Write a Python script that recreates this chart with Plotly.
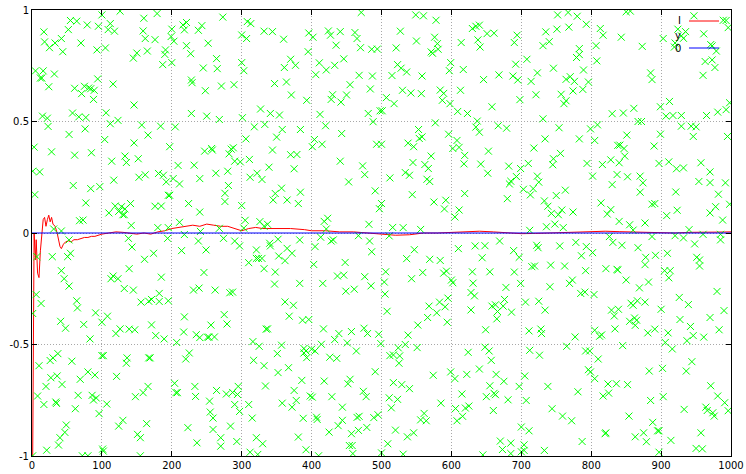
import plotly.graph_objects as go

# ---- data ----
# "y" series: (index, value) pairs
y_points = [
(100,0.978),(126,0.995),(55,0.953),(64,0.950),(79,0.933),(95,0.927),(112,0.939),(109,0.912),(118,0.905),(160,0.963),(17,0.902),(52,0.912),(42,0.872),(18,0.857),(25,0.831),(33,0.852),(70,0.852),(44,0.813),(93,0.821),(105,0.830),(159,0.906),(162,0.872),(165,0.816),(150,0.807),(145,0.784),(5,0.727),(16,0.727),(12,0.695),(14,0.695),(32,0.713),(24,0.656),(61,0.649),(71,0.625),(75,0.658),(81,0.650),(84,0.647),(89,0.640),(94,0.691),(116,0.668),(88,0.599),(146,0.574),(15,0.524),(22,0.515),(58,0.538),(67,0.521),(77,0.518),(106,0.539),(23,0.478),(53,0.442),(76,0.467),(112,0.490),(123,0.505),(157,0.484),(166,0.439),(104,0.419),(146,0.404),(3,0.385),(28,0.364),(61,0.349),(85,0.360),(133,0.345),(135,0.316),(152,0.333),(114,0.322),(1,0.277),(11,0.274),(117,0.237),(153,0.250),(162,0.261),(59,0.213),(84,0.199),(97,0.208),(4,0.172),(77,0.135),(119,0.121),(128,0.118),(141,0.132),(133,0.108),(124,0.097),(110,0.090),(130,0.082),(132,0.082),(68,0.055),(73,0.058),(142,0.034),(31,0.018),(42,0.009),
(138,-0.024),(53,-0.031),(143,-0.063),(7,-0.106),(29,-0.106),(51,-0.106),(55,-0.091),(161,-0.118),(139,-0.160),(42,-0.169),(46,-0.205),(53,-0.238),(113,-0.205),(116,-0.193),(123,-0.205),(132,-0.249),(145,-0.256),(6,-0.276),(13,-0.316),(64,-0.304),(65,-0.336),(156,-0.310),(167,-0.306),(1,-0.361),(91,-0.358),(108,-0.373),(41,-0.396),(100,-0.400),(48,-0.427),(74,-0.410),(126,-0.430),(120,-0.451),(139,-0.431),(147,-0.434),(83,-0.475),(100,-0.550),(102,-0.550),(37,-0.541),(30,-0.560),(26,-0.572),(10,-0.595),(57,-0.575),(136,-0.560),(135,-0.584),(27,-0.649),(36,-0.641),(43,-0.679),(20,-0.688),(69,-0.656),(80,-0.623),(90,-0.637),(121,-0.643),(167,-0.560),(8,-0.731),(17,-0.769),(34,-0.758),(35,-0.764),(66,-0.728),(86,-0.728),(88,-0.749),(92,-0.740),(62,-0.788),(107,-0.767),(148,-0.734),(159,-0.716),(166,-0.688),(96,-0.810),(49,-0.861),(47,-0.894),(40,-0.918),(38,-0.951),(124,-0.866),(130,-0.840),(164,-0.855),(151,-0.903),(155,-0.918),(21,-0.974),(1,-0.999),(72,-0.999),(80,-0.999),(101,-0.969),(102,-0.978),(155,-0.999),
(179,0.984),(200,0.914),(199,0.881),(203,0.860),(216,0.933),(221,0.944),(218,0.911),(238,0.909),(243,0.930),(252,0.851),(221,0.840),(227,0.804),(191,0.821),(190,0.801),(187,0.755),(200,0.764),(176,0.867),(273,0.968),(264,0.782),(265,0.737),(245,0.740),(228,0.686),(229,0.674),(248,0.638),(271,0.659),(289,0.665),(300,0.888),(307,0.872),(308,0.948),(313,0.939),(332,0.905),(300,0.764),(303,0.728),(327,0.556),(228,0.536),(250,0.524),(268,0.509),(301,0.517),(318,0.476),(333,0.487),(184,0.479),(205,0.476),(197,0.387),(247,0.367),(257,0.379),(258,0.372),(285,0.376),(288,0.382),(282,0.355),(209,0.303),(232,0.304),(290,0.322),(298,0.319),(311,0.330),(306,0.422),(181,0.267),(188,0.259),(192,0.229),(202,0.244),(211,0.220),(240,0.244),(263,0.268),(280,0.277),(281,0.213),(312,0.250),(322,0.268),(329,0.240),(195,0.169),(197,0.169),(276,0.178),(276,0.141),(176,0.120),(185,0.121),(224,0.132),(240,0.094),(300,0.123),(180,0.024),(195,0.024),(211,0.048),(241,0.007),(268,0.021),(303,0.022),(305,0.057),(326,0.051),(332,0.030),
(194,-0.024),(218,-0.007),(238,-0.036),(249,-0.076),(274,-0.024),(290,-0.036),(297,-0.058),(321,-0.076),(321,-0.114),(324,-0.114),(329,-0.114),(310,-0.133),(332,-0.160),(174,-0.091),(214,-0.079),(246,-0.177),(185,-0.198),(182,-0.271),(171,-0.298),(182,-0.307),(195,-0.304),(231,-0.256),(239,-0.247),(262,-0.256),(283,-0.268),(287,-0.265),(218,-0.376),(275,-0.366),(171,-0.412),(256,-0.413),(279,-0.408),(177,-0.460),(189,-0.475),(217,-0.444),(235,-0.456),(240,-0.469),(251,-0.467),(253,-0.467),(261,-0.466),(207,-0.491),(316,-0.487),(325,-0.508),(335,-0.431),(169,-0.560),(225,-0.538),(220,-0.565),(317,-0.571),(332,-0.595),(204,-0.674),(206,-0.716),(208,-0.716),(233,-0.688),(234,-0.733),(264,-0.706),(254,-0.754),(255,-0.803),(259,-0.830),(278,-0.722),(287,-0.715),(294,-0.724),(295,-0.688),(290,-0.769),(297,-0.800),(310,-0.769),(315,-0.830),(334,-0.686),(223,-0.873),(259,-0.881),(284,-0.866),(236,-0.941),(270,-0.918),(270,-0.956),(293,-0.935),(321,-0.918),(330,-0.945),(312,-0.983),(323,-0.993),
(471,0.989),(344,0.903),(360,0.869),(396,0.897),(402,0.878),(395,0.813),(424,0.906),(427,0.887),(441,0.903),(462,0.899),(465,0.872),(470,0.831),(435,0.842),(486,0.824),(494,0.825),(370,0.779),(377,0.752),(361,0.742),(411,0.763),(406,0.710),(421,0.731),(433,0.752),(446,0.781),(347,0.670),(364,0.677),(371,0.619),(468,0.707),(487,0.704),(455,0.665),(484,0.646),(430,0.620),(428,0.599),(442,0.587),(450,0.619),(393,0.595),(341,0.536),(354,0.529),(412,0.532),(481,0.536),(498,0.548),(501,0.548),(358,0.464),(384,0.464),(420,0.481),(350,0.430),(404,0.419),(401,0.387),(415,0.398),(443,0.446),(493,0.398),(500,0.398),(488,0.499),(344,0.372),(370,0.351),(379,0.352),(339,0.295),(375,0.288),(441,0.322),(473,0.301),(476,0.262),(453,0.229),(348,0.177),(345,0.148),(357,0.201),(365,0.148),(384,0.183),(381,0.132),(491,0.189),(500,0.132),(497,0.109),(337,0.039),(418,0.052),(423,0.066),(482,0.039),(421,0.018),
(340,-0.046),(341,-0.058),(352,-0.028),(383,-0.031),(405,-0.061),(413,-0.019),(428,-0.036),(431,-0.031),(467,-0.012),(483,-0.036),(486,-0.084),(353,-0.103),(365,-0.069),(372,-0.091),(362,-0.124),(348,-0.175),(403,-0.141),(448,-0.132),(437,-0.193),(446,-0.189),(476,-0.196),(485,-0.237),(347,-0.229),(383,-0.226),(416,-0.226),(449,-0.261),(461,-0.252),(362,-0.309),(374,-0.324),(368,-0.373),(387,-0.391),(396,-0.388),(337,-0.430),(417,-0.430),(439,-0.451),(457,-0.442),(475,-0.427),(480,-0.451),(496,-0.454),(433,-0.478),(451,-0.493),(499,-0.496),(357,-0.503),(414,-0.499),(351,-0.541),(389,-0.518),(392,-0.529),(389,-0.538),(393,-0.559),(400,-0.521),(405,-0.529),(426,-0.557),(436,-0.562),(464,-0.529),(367,-0.604),(352,-0.626),(386,-0.661),(418,-0.664),(452,-0.676),(455,-0.656),(491,-0.622),(375,-0.706),(398,-0.731),(401,-0.736),(429,-0.734),(474,-0.710),(478,-0.734),(358,-0.763),(372,-0.781),(378,-0.751),(444,-0.781),(388,-0.831),(407,-0.826),(408,-0.836),(444,-0.840),(438,-0.864),(465,-0.827),(468,-0.822),(489,-0.828),(495,-0.815),(381,-0.915),(425,-0.893),(457,-0.900),(467,-0.885),(479,-0.872),(392,-0.972),(410,-0.999),(454,-0.953),(458,-0.953),(459,-0.989),(500,-0.986),
(549,0.978),(560,0.974),(578,0.954),(527,0.905),(550,0.861),(521,0.830),(576,0.878),(580,0.849),(581,0.824),(571,0.812),(573,0.806),(614,0.854),(630,0.917),(635,0.927),(640,0.932),(651,0.894),(661,0.896),(638,0.866),(641,0.834),(599,0.764),(597,0.728),(617,0.733),(523,0.755),(528,0.739),(536,0.722),(515,0.706),(558,0.704),(646,0.688),(668,0.709),(530,0.640),(542,0.628),(557,0.625),(584,0.641),(589,0.626),(587,0.595),(598,0.580),(613,0.640),(507,0.607),(518,0.580),(609,0.545),(623,0.536),(658,0.566),(577,0.494),(637,0.502),(635,0.475),(640,0.452),(667,0.481),(553,0.464),(554,0.424),(558,0.431),(596,0.443),(538,0.403),(546,0.387),(608,0.415),(611,0.384),(602,0.379),(653,0.367),(571,0.345),(619,0.348),(545,0.316),(562,0.307),(567,0.289),(618,0.310),(642,0.309),(652,0.268),(534,0.271),(540,0.259),(512,0.247),(565,0.241),(569,0.231),(544,0.172),(619,0.177),(575,0.139),(592,0.147),(590,0.108),(611,0.103),(605,0.072),(516,0.025),(531,0.024),(556,0.016),
(511,-0.013),(610,-0.070),(634,-0.058),(648,-0.057),(669,-0.036),(547,-0.075),(536,-0.115),(569,-0.118),(584,-0.123),(644,-0.111),(506,-0.174),(504,-0.220),(559,-0.177),(543,-0.205),(589,-0.180),(593,-0.171),(630,-0.174),(655,-0.174),(600,-0.211),(602,-0.223),(631,-0.225),(505,-0.274),(628,-0.267),(633,-0.282),(595,-0.292),(583,-0.310),(568,-0.328),(579,-0.358),(591,-0.331),(508,-0.351),(628,-0.345),(566,-0.379),(594,-0.400),(552,-0.413),(649,-0.434),(658,-0.328),(663,-0.322),(666,-0.352),(665,-0.385),(538,-0.458),(524,-0.515),(534,-0.500),(551,-0.514),(512,-0.550),(517,-0.547),(526,-0.551),(525,-0.584),(648,-0.512),(654,-0.529),(624,-0.535),(657,-0.571),(640,-0.610),(574,-0.638),(599,-0.623),(605,-0.653),(622,-0.634),(517,-0.671),(529,-0.680),(540,-0.698),(655,-0.685),(664,-0.634),(615,-0.722),(650,-0.734),(661,-0.719),(663,-0.725),(511,-0.739),(523,-0.746),(514,-0.784),(585,-0.763),(606,-0.787),(608,-0.842),(616,-0.822),(620,-0.785),(625,-0.776),(660,-0.796),(561,-0.809),(556,-0.838),(564,-0.842),(520,-0.884),(537,-0.914),(546,-0.896),(509,-0.945),(670,-0.933),(531,-0.992),(645,-0.995),
(752,0.978),(767,0.989),(780,0.972),(735,0.902),(751,0.914),(768,0.923),(793,0.936),(731,0.840),(740,0.858),(690,0.854),(694,0.887),(708,0.779),(692,0.757),(688,0.704),(695,0.686),(714,0.680),(723,0.718),(746,0.739),(783,0.827),(783,0.800),(779,0.787),(789,0.731),(764,0.689),(770,0.701),(776,0.680),(774,0.637),(788,0.644),(796,0.677),(757,0.622),(764,0.593),(761,0.580),(721,0.620),(698,0.598),(731,0.512),(807,0.840),(808,0.772),(813,0.917),(817,0.887),(830,0.535),(679,0.470),(754,0.472),(799,0.467),(809,0.485),(734,0.422),(783,0.422),(805,0.415),(718,0.381),(756,0.357),(746,0.333),(745,0.306),(710,0.312),(699,0.289),(682,0.300),(685,0.232),(683,0.220),(693,0.253),(723,0.255),(725,0.228),(717,0.199),(713,0.171),(703,0.196),(763,0.192),(750,0.168),(733,0.144),(738,0.120),(743,0.088),(753,0.082),(758,0.103),(774,0.094),(794,0.312),(802,0.255),(816,0.307),(828,0.328),(830,0.217),(838,0.393),(837,0.262),(814,0.135),(828,0.105),(823,0.085),(680,0.154),(736,0.028),(748,0.040),(760,0.024),(712,0.012),
(689,-0.079),(697,-0.109),(722,-0.055),(724,-0.066),(755,-0.058),(778,-0.042),(793,-0.061),(802,-0.088),(786,-0.102),(826,-0.016),(831,-0.042),(821,-0.160),(837,-0.163),(690,-0.175),(715,-0.151),(719,-0.148),(742,-0.144),(762,-0.148),(792,-0.169),(678,-0.244),(699,-0.226),(741,-0.241),(769,-0.226),(773,-0.211),(785,-0.271),(791,-0.265),(804,-0.276),(676,-0.298),(674,-0.328),(686,-0.355),(706,-0.310),(725,-0.306),(734,-0.346),(829,-0.346),(833,-0.372),(711,-0.439),(728,-0.431),(729,-0.451),(777,-0.466),(805,-0.436),(812,-0.463),(815,-0.457),(834,-0.430),(765,-0.508),(712,-0.526),(726,-0.548),(792,-0.529),(798,-0.529),(810,-0.565),(796,-0.613),(799,-0.623),(805,-0.653),(824,-0.677),(836,-0.676),(705,-0.641),(697,-0.688),(738,-0.688),(781,-0.712),(825,-0.718),(817,-0.731),(675,-0.665),(681,-0.748),(707,-0.751),(744,-0.788),(759,-0.821),(772,-0.842),(700,-0.870),(711,-0.887),(820,-0.900),(821,-0.896),(787,-0.935),(685,-0.942),(673,-0.971),(685,-0.989),(704,-0.950),(704,-0.975),(733,-0.975),(700,-0.981),
(850,0.992),(856,0.995),(843,0.878),(873,0.837),(903,0.872),(947,0.974),(924,0.914),(935,0.903),(929,0.884),(920,0.852),(919,0.834),(932,0.873),(961,0.893),(971,0.845),(973,0.839),(979,0.816),(989,0.954),(993,0.953),(996,0.921),(963,0.769),(973,0.776),(977,0.742),(960,0.707),(885,0.718),(887,0.688),(912,0.590),(899,0.566),(907,0.524),(917,0.527),(929,0.527),(998,0.584),(993,0.553),(981,0.542),(965,0.527),(846,0.538),(861,0.559),(867,0.500),(872,0.500),(851,0.439),(899,0.443),(929,0.479),(943,0.479),(950,0.476),(946,0.433),(995,0.433),(841,0.394),(847,0.379),(848,0.345),(840,0.315),(890,0.390),(897,0.312),(911,0.319),(922,0.288),(932,0.292),(957,0.315),(852,0.252),(870,0.255),(874,0.225),(921,0.184),(870,0.183),(887,0.129),(891,0.132),(908,0.078),(923,0.102),(954,0.231),(970,0.274),(970,0.226),(992,0.225),(982,0.174),(978,0.118),(970,0.090),(998,0.129),(988,0.058),(840,0.052),(855,0.037),(877,0.045),(860,0.013),(940,0.015),
(887,-0.016),(920,-0.012),(932,-0.022),(960,-0.006),(985,-0.006),(985,-0.031),(948,-0.049),(844,-0.055),(867,-0.066),(878,-0.109),(877,-0.142),(892,-0.100),(909,-0.091),(905,-0.169),(913,-0.169),(911,-0.201),(951,-0.109),(955,-0.121),(955,-0.148),(838,-0.166),(850,-0.211),(869,-0.246),(882,-0.220),(980,-0.262),(926,-0.289),(939,-0.321),(857,-0.315),(860,-0.324),(866,-0.304),(877,-0.310),(839,-0.342),(900,-0.342),(990,-0.348),(855,-0.396),(862,-0.381),(865,-0.391),(863,-0.414),(927,-0.388),(970,-0.379),(942,-0.419),(946,-0.460),(937,-0.483),(961,-0.467),(983,-0.434),(881,-0.448),(891,-0.431),(910,-0.448),(906,-0.491),(916,-0.520),(845,-0.505),(944,-0.577),(902,-0.607),(936,-0.619),(883,-0.619),(852,-0.680),(971,-0.685),(981,-0.731),(991,-0.761),(903,-0.734),(885,-0.751),(933,-0.791),(964,-0.781),(966,-0.796),(974,-0.806),(976,-0.821),(996,-0.797),(854,-0.821),(888,-0.849),(895,-0.887),(897,-0.887),(863,-0.914),(875,-0.896),(879,-0.936),(914,-0.930),(957,-0.896),(950,-0.966),(959,-0.968),(897,-0.983),
]

# "I" series (running mean), read at sample positions
I_x = [1, 2, 3, 5, 6, 8, 10, 12, 14, 16, 18, 20, 22, 24, 26, 28, 30, 33, 36, 38, 40, 42, 45, 48, 52, 56, 60, 65,
       70, 75, 80, 85, 90, 95, 100, 110, 120, 130, 140, 150, 160, 170, 180, 190, 200, 210, 220, 230, 240, 250,
       260, 270, 280, 290, 300, 310, 320, 330, 350, 370, 390, 400, 420, 440, 460, 480, 500, 520, 540, 560, 580,
       600, 620, 640, 660, 680, 700, 720, 740, 760, 780, 800, 820, 840, 860, 880, 900, 920, 940, 960, 980, 1000]
I_y = [-1.0, -0.05, 0.0, -0.12, -0.03, -0.18, -0.2, -0.08, 0.0, 0.06, 0.07, 0.03, 0.06, 0.08, 0.05, 0.07, 0.04,
       0.03, 0.0, -0.03, -0.06, -0.07, -0.05, -0.04, -0.035, -0.04, -0.03, -0.03, -0.025, -0.02, -0.02, -0.015,
       -0.015, -0.01, -0.005, 0.0, 0.005, 0.003, 0.0, -0.005, 0.0, -0.005, 0.005, 0.01, 0.02, 0.025, 0.03, 0.035,
       0.03, 0.04, 0.035, 0.03, 0.03, 0.02, 0.01, 0.02, 0.025, 0.02, 0.02, 0.02, 0.015, 0.01, 0.01, 0.005, 0.005,
       0.0, -0.005, -0.01, -0.008, 0.0, 0.0, 0.002, 0.005, 0.008, 0.005, 0.0, -0.003, -0.002, 0.0, 0.003, 0.006,
       0.008, 0.008, 0.006, 0.005, 0.002, 0.0, 0.0, 0.003, 0.005, 0.004, 0.005]

# "0" series
zero_x = [0, 1000]
zero_y = [0, 0]

series_names = ["I", "y", "0"]
x_ticks = [0, 100, 200, 300, 400, 500, 600, 700, 800, 900, 1000]
y_ticks = [-1, -0.5, 0, 0.5, 1]
y_tick_text = ["-1", "-0.5", "0", "0.5", "1"]

# ---- figure ----
yx = [p[0] for p in y_points]
yy = [p[1] for p in y_points]

RED = "#ff0000"
GREEN = "#00ff00"
BLUE = "#0000ff"

fig = go.Figure()
fig.add_trace(go.Scatter(x=I_x, y=I_y, mode="lines", name=series_names[0],
                         line=dict(color=RED, width=1), showlegend=False))
fig.add_trace(go.Scatter(x=yx, y=yy, mode="markers", name=series_names[1],
                         marker=dict(symbol="x-thin", size=7,
                                     line=dict(color=GREEN, width=1), color=GREEN),
                         showlegend=False))
fig.add_trace(go.Scatter(x=zero_x, y=zero_y, mode="lines", name=series_names[2],
                         line=dict(color=BLUE, width=1), showlegend=False))

W, H = 746, 474
L, R, T, B = 32, 15, 10, 18
pw, ph = W - L - R, H - T - B

def px_to_paper(px, py):
    return (px - L) / pw, (H - B - py) / ph

# gnuplot-style key: label on the left, sample on the right
key_rows = [(series_names[0], 21, RED, "line"),
            (series_names[1], 35, GREEN, "point"),
            (series_names[2], 48, BLUE, "line")]
for label, py, col, kind in key_rows:
    tx, ty = px_to_paper(683, py)
    fig.add_annotation(x=tx, y=ty, xref="paper", yref="paper", text=label,
                       showarrow=False, xanchor="right", yanchor="middle",
                       font=dict(family="DejaVu Sans", size=10, color="black"))
    if kind == "line":
        x0, y0 = px_to_paper(689, py)
        x1, _ = px_to_paper(719, py)
        fig.add_shape(type="line", xref="paper", yref="paper", x0=x0, x1=x1, y0=y0, y1=y0,
                      line=dict(color=col, width=1))

axis_common = dict(showline=True, linecolor="black", linewidth=1, mirror="allticks",
                   ticks="inside", ticklen=5, tickcolor="black", tickwidth=1,
                   showgrid=True, gridcolor="#a8a8a8", griddash="1px,2px", gridwidth=1,
                   zeroline=False, automargin=False, ticklabeloverflow="allow",
                   tickfont=dict(family="DejaVu Sans", size=10, color="black"))

fig.update_xaxes(range=[0, 1000], tickvals=x_ticks, **axis_common)
fig.update_yaxes(range=[-1, 1], tickvals=y_ticks, ticktext=y_tick_text, **axis_common)

fig.update_layout(width=W, height=H, margin=dict(l=L, r=R, t=T, b=B, pad=0),
                  plot_bgcolor="white", paper_bgcolor="white", showlegend=False)

# remove the page's default body margin so the figure sits at the window's corner
fig.write_html("out.html", config={"displayModeBar": False, "staticPlot": True},
               post_script="document.body.style.margin='0';document.body.style.overflow='hidden';")
